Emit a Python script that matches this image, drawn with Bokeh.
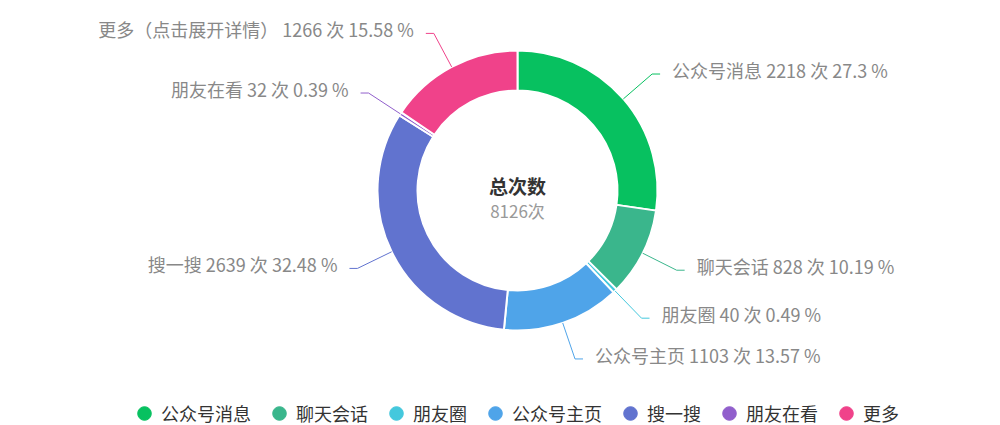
import math
from bokeh.plotting import figure
from bokeh.models import Range1d, Legend, LegendItem, ColumnDataSource
from bokeh.core.properties import value
from bokeh.embed import file_html
from bokeh.resources import INLINE

# ---- data ----
categories = ["公众号消息", "聊天会话", "朋友圈", "公众号主页", "搜一搜", "朋友在看", "更多"]
label_names = ["公众号消息", "聊天会话", "朋友圈", "公众号主页", "搜一搜", "朋友在看", "更多（点击展开详情）"]
counts = [2218, 828, 40, 1103, 2639, 32, 1266]
colors = ["#07c160", "#3ab68c", "#44c8dd", "#4fa4e9", "#6173cf", "#915fcc", "#f0428a"]
center_title = "总次数"
unit = "次"

# ---- layout constants ----
W, H = 984, 425
CX, CY = 517, 190          # donut centre in canvas pixels (from top-left)
R_IN, R_OUT = 100, 140
R_LINE = 178
H_LEN = 8
TXT_GAP = 12
FONT = "Noto Sans CJK SC"

total = sum(counts)

p = figure(width=W, height=H, x_range=Range1d(-CX, W - CX), y_range=Range1d(-(H - CY), CY),
           output_backend="svg", toolbar_location=None, min_border=0,
           x_axis_location=None, y_axis_location=None)
p.grid.visible = False
p.outline_line_color = None
p.background_fill_color = "white"

starts, ends, mids = [], [], []
cum = 0
for c in counts:
    a0 = math.pi / 2 - 2 * math.pi * (cum + c) / total
    a1 = math.pi / 2 - 2 * math.pi * cum / total
    starts.append(a0)
    ends.append(a1)
    mids.append((a0 + a1) / 2)
    cum += c

src = ColumnDataSource(dict(start=starts, end=ends, color=colors, cat=categories))
p.annular_wedge(x=0, y=0, inner_radius=R_IN, outer_radius=R_OUT, start_angle="start", end_angle="end",
                direction="anticlock", fill_color="color", line_color="white", line_width=2, source=src)

# leader lines and labels
xs, ys, tx, ty, tt, al = [], [], [], [], [], []
def fmt_pct(v):
    s = "%.2f" % v
    s = s.rstrip("0").rstrip(".")
    return s

for name, c, m in zip(label_names, counts, mids):
    x1, y1 = R_OUT * math.cos(m), R_OUT * math.sin(m)
    x2, y2 = R_LINE * math.cos(m), R_LINE * math.sin(m)
    side = 1 if math.cos(m) >= 0 else -1
    x3 = x2 + side * H_LEN
    xs.append([x1, x2, x3])
    ys.append([y1, y2, y2])
    tx.append(x3 + side * TXT_GAP)
    ty.append(y2 + 4)
    tt.append(f"{name} {c} 次 {fmt_pct(100 * c / total)} %")
    al.append("left" if side > 0 else "right")

p.multi_line(xs=xs, ys=ys, line_color=colors, line_width=1)
p.text(x=tx, y=ty, text=tt, text_align=al, text_baseline="middle", text_font=value(FONT),
       text_font_size="18px", text_color="#888888")

# centre texts
p.text(x=[0], y=[5.5], text=[center_title], text_align="center", text_baseline="middle",
       text_font=value(FONT), text_font_size="19px", text_font_style="bold", text_color="#333333")
p.text(x=[0], y=[-20], text=[f"{total}{unit}"], text_align="center", text_baseline="middle",
       text_font=value(FONT), text_font_size="17px", text_color="#999999")

# legend (markers at NaN so nothing draws in the plot)
lsrc = ColumnDataSource(dict(x=[float("nan")] * len(categories), y=[float("nan")] * len(categories),
                             color=colors))
lr = p.scatter(x="x", y="y", color="color", size=12, source=lsrc)
items = [LegendItem(label=cat, renderers=[lr], index=i) for i, cat in enumerate(categories)]
legend = Legend(items=items, orientation="horizontal", location=(127, -5),
                glyph_width=34, glyph_height=34, label_standoff=0, spacing=11,
                padding=0, margin=0, border_line_color=None, background_fill_alpha=0,
                label_text_font=FONT, label_text_font_size="18px", label_text_color="#333333",
                label_text_baseline="middle")
p.add_layout(legend, "center")

open("out.html", "w").write(file_html(p, INLINE))
